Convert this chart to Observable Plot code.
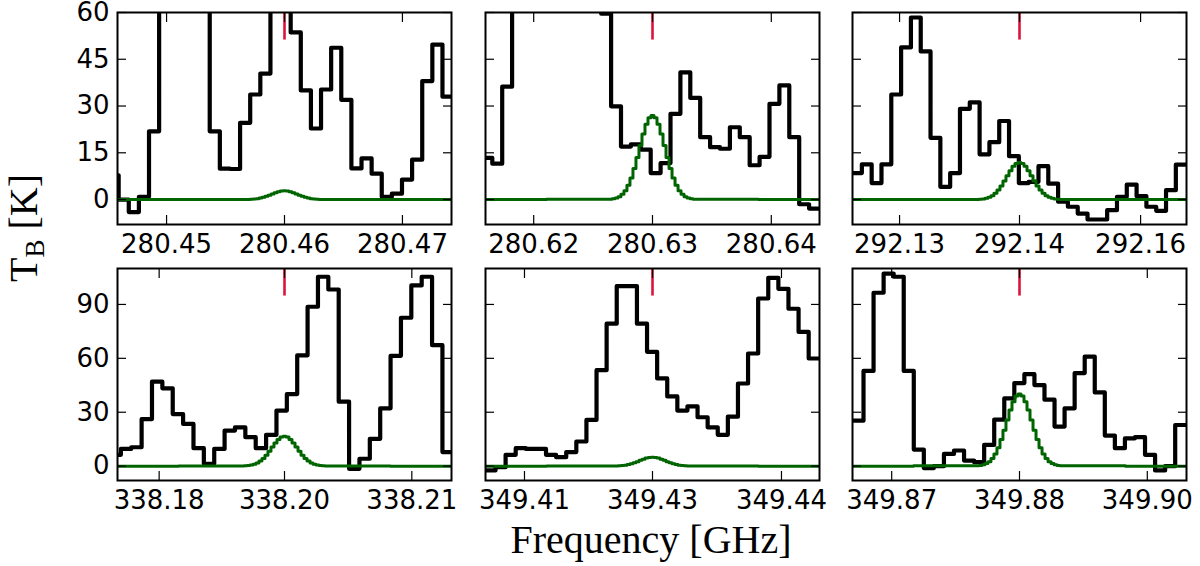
<!DOCTYPE html>
<html><head><meta charset="utf-8">
<script src="https://cdn.jsdelivr.net/npm/d3@7"></script>
<script src="https://cdn.jsdelivr.net/npm/@observablehq/plot@0.6"></script>
<style>
html,body{margin:0;padding:0;background:#fff;}
#fig{position:relative;width:1200px;height:566px;overflow:hidden;background:#fff;}
</style></head><body><div id="fig"></div>
<script>
// ---- data ----
const xDomains = [
  [280.44584, 280.47416],
  [280.615943, 280.644057],
  [292.12988, 292.15912],
  [338.17958, 338.21342],
  [349.40902, 349.44398],
  [349.86549, 349.90051]
];
const lineCenters = [280.46, 280.63, 292.1445, 338.1965, 349.4265, 349.8830];
const xTickValues = [
  [280.45, 280.46, 280.47],
  [280.62, 280.63, 280.64],
  [292.1340, 292.1445, 292.1551],
  [338.1838, 338.1965, 338.2094],
  [349.4131, 349.4265, 349.4400],
  [349.8696, 349.8830, 349.8964]
];
const xTickLabels = [
  ["280.45", "280.46", "280.47"],
  ["280.62", "280.63", "280.64"],
  ["292.13", "292.14", "292.16"],
  ["338.18", "338.20", "338.21"],
  ["349.41", "349.43", "349.44"],
  ["349.87", "349.88", "349.90"]
];
const yTicksTop = [0, 15, 30, 45, 60];
const yTicksBottom = [0, 30, 60, 90];
const yDomainTop = [-8, 60];
const yDomainBottom = [-8, 110];

// channel grid: first channel left edge and channel width (GHz)
const chanStart = [280.44508, 280.615682, 292.12984, 338.17887, 349.40901, 349.86559];
const chanWidth = [0.000858, 0.0008333, 0.000859, 0.001051, 0.0010574, 0.0010542];

// observed brightness temperature per channel (K)
const spec1 = [7.8, 0, -4, 0.9, 21.9, 80, 110, 120, 100, 75, 21.9, 9.9, 9.8, 24.6, 33.7, 40.4, 65, 70, 53.6, 35, 22.8, 35.3, 48.7, 32, 10, 13.2, 8.3, 0.9, 1.9, 6.4, 12.8, 38, 49.7, 33];
const spec2 = [13.4, 11.5, 36.2, 80, 100, 110, 120, 105, 95, 85, 75, 65, 59.6, 29.9, 17, 17.7, 16, 8.5, 11.7, 27.5, 40.8, 32.6, 20, 16.8, 16.3, 23.2, 20, 11, 13.7, 30.7, 36.6, 20, -1.5, -2.9];
const spec3 = [8.5, 11.3, 5.3, 11.3, 33.7, 48.8, 58.4, 47.5, 19.8, 4.1, 8.5, 29.1, 31.2, 14.5, 18.4, 25.2, 13.9, 5.3, 5.7, 10.7, 5.1, -0.7, -2.3, -4.5, -6.4, -6.4, -3.4, 0.9, 4.8, 1.1, -2.3, -3.6, 3, 11.2];
const spec4 = [6.3, 9.6, 10.5, 26.2, 47, 43.3, 29, 23.5, 10, 1.3, 9.6, 19.8, 21.6, 16.1, 10, 17.4, 30.9, 40.1, 61.7, 88.7, 105.4, 98.3, 35.9, -1.5, 4.1, 15.2, 32.2, 61.4, 82.6, 100.6, 105.4, 67.3, 7.8];
const spec5 = [-2.4, -0.6, 6.3, 10, 9.6, 9.6, 6.3, 5, 7.8, 13.7, 25.7, 53.4, 79.3, 100.2, 100.2, 79.3, 63.6, 48.8, 38.8, 30.9, 33.3, 27.2, 21.6, 17.4, 27.5, 46, 62.7, 93.3, 104.8, 98.7, 87.6, 74.7, 59.9];
const spec6 = [25.3, 53, 96.5, 107.2, 105.4, 53, 9.2, -1.1, 0, 6.8, 8.7, 3.1, 2.2, 11.8, 25.9, 37.7, 46.2, 51.2, 45.1, 37, 22, 32.2, 51.8, 61, 41, 17, 10, 15.5, 16.1, 6.3, -2.4, 0, 22.9];
const specs = [spec1, spec2, spec3, spec4, spec5, spec6];

// model (green) peak per panel and its normalised sampled profile
const modelPeak = [2.8, 27, 11.9, 16.6, 5.0, 40.1];
const modelProfile = [0.0043, 0.0092, 0.0184, 0.0348, 0.0623, 0.1056, 0.1693, 0.2567, 0.3682, 0.4996, 0.6414, 0.7790, 0.8949, 0.9726, 1, 0.9726, 0.8949, 0.7790, 0.6414, 0.4996, 0.3682, 0.2567, 0.1693, 0.1056, 0.0623, 0.0348, 0.0184, 0.0092, 0.0043];
const modelStepFrac = 0.009;

const xLabelText = "Frequency [GHz]";

// ---- layout ----
const frames = [
  {left: 117, top: 12}, {left: 485, top: 12}, {left: 852, top: 12},
  {left: 117, top: 268}, {left: 485, top: 268}, {left: 852, top: 268}
];
const FW = 334, FH = 212;
const ml = 60, mr = 20, mt = 10, mb = 50;
const fig = document.getElementById("fig");

for (let i = 0; i < 6; i++) {
  const [lo, hi] = xDomains[i];
  const spec = specs[i];
  const black = spec.map((v, k) => ({x: chanStart[i] + k * chanWidth[i], y: v}));
  black.push({x: chanStart[i] + spec.length * chanWidth[i], y: spec[spec.length - 1]});
  const c = lineCenters[i];
  const dg = modelStepFrac * (hi - lo);
  const half = (modelProfile.length - 1) / 2;
  const green = [{x: lo - dg, y: 0},
    ...modelProfile.map((p, k) => ({x: c + (k - half) * dg, y: modelPeak[i] * p})),
    {x: hi + dg, y: 0}];
  const bottomRow = i >= 3;
  const yd = bottomRow ? yDomainBottom : yDomainTop;
  const yt = bottomRow ? yTicksBottom : yTicksTop;
  const showY = i % 3 === 0;
  const redLen = 0.13 * (yd[1] - yd[0]);
  const labelMap = new Map(xTickValues[i].map((v, j) => [v, xTickLabels[i][j]]));

  const svg = Plot.plot({
    width: FW + ml + mr, height: FH + mt + mb,
    marginLeft: ml, marginRight: mr, marginTop: mt, marginBottom: mb,
    style: {fontFamily: "DejaVu Sans", fontSize: "26px", overflow: "visible", background: "transparent", color: "black"},
    x: {domain: [lo, hi]},
    y: {domain: yd},
    marks: [
      Plot.line(black, {x: "x", y: "y", curve: "step-after", stroke: "black", strokeWidth: 4.2, clip: true}),
      Plot.line(green, {x: "x", y: "y", curve: "step", stroke: "#006400", strokeWidth: 3, clip: true}),
      Plot.ruleX([c], {y1: yd[1], y2: yd[1] - redLen, stroke: "#dc143c", strokeWidth: 2.6}),
      Plot.axisX(xTickValues[i], {anchor: "bottom", tickSize: -9, fill: "none", strokeWidth: 1.2, label: null}),
      Plot.axisX(xTickValues[i], {anchor: "top", tickSize: -9, fill: "none", strokeWidth: 1.2, label: null}),
      Plot.axisX(xTickValues[i], {anchor: "bottom", tickSize: 0, tickPadding: 10, tickFormat: d => labelMap.get(d), fill: "black", label: null}),
      Plot.axisY(yt, {anchor: "left", tickSize: -9, fill: "none", strokeWidth: 1.2, label: null}),
      Plot.axisY(yt, {anchor: "right", tickSize: -9, fill: "none", strokeWidth: 1.2, label: null}),
      showY ? Plot.axisY(yt, {anchor: "left", tickSize: 0, tickPadding: 8, fill: "black", label: null}) : null,
      Plot.frame({stroke: "black", strokeWidth: 2})
    ]
  });
  svg.style.position = "absolute";
  svg.style.left = (frames[i].left - ml) + "px";
  svg.style.top = (frames[i].top - mt) + "px";
  fig.appendChild(svg);
}

// axis titles
const overlay = d3.create("svg")
  .attr("width", 1200).attr("height", 566)
  .style("position", "absolute").style("left", "0px").style("top", "0px");
overlay.append("text")
  .attr("x", 651).attr("y", 553)
  .attr("text-anchor", "middle")
  .attr("font-family", "Liberation Serif").attr("font-size", 40)
  .attr("fill", "black")
  .text(xLabelText);
const yl = overlay.append("text")
  .attr("transform", "translate(37,228) rotate(-90)")
  .attr("text-anchor", "middle")
  .attr("font-family", "Liberation Serif").attr("font-size", 40)
  .attr("fill", "black");
yl.append("tspan").text("T");
yl.append("tspan").attr("font-size", 27).attr("dy", 7).text("B");
yl.append("tspan").attr("dy", -7).text(" [K]");
fig.appendChild(overlay.node());
</script>
</body></html>
